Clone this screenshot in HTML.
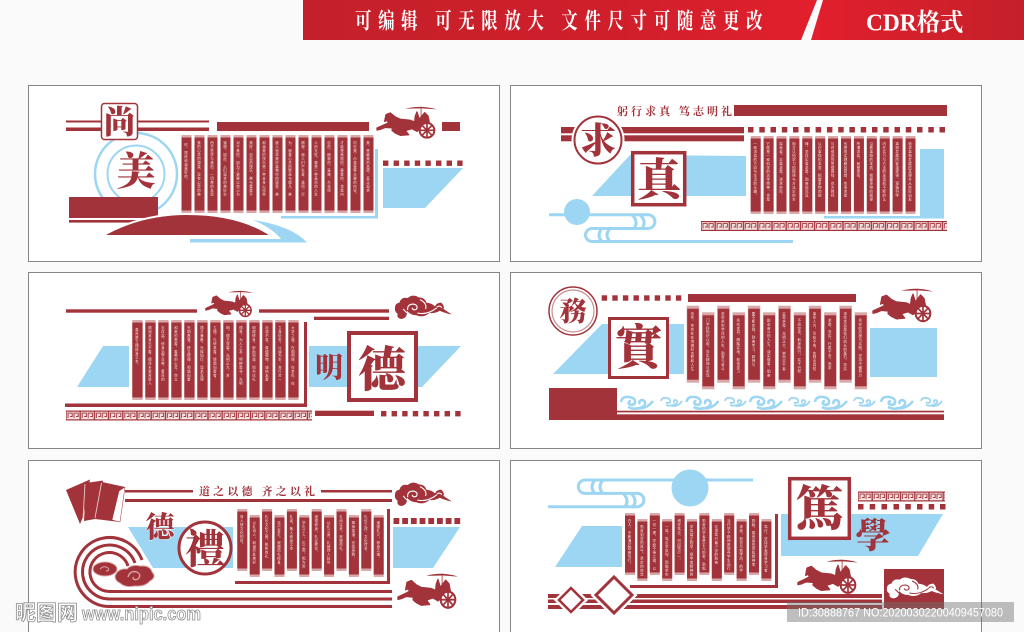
<!DOCTYPE html>
<html lang="zh">
<head>
<meta charset="utf-8">
<title>文化墙</title>
<style>
html,body{margin:0;padding:0;background:#fafafa;width:1024px;height:632px;overflow:hidden}
svg{display:block}
.c{font-family:"Liberation Serif","Noto Serif CJK TC",serif;font-weight:900;fill:#a2333a;text-anchor:middle}
.t{font-family:"Liberation Serif","Noto Serif CJK SC",serif;font-weight:700;fill:#a2333a}
.h{font-family:"Liberation Serif","Noto Serif CJK SC",serif;font-weight:700;fill:#fff}
.v{font-family:"Liberation Sans","Noto Sans CJK SC",sans-serif;font-size:3.5px;letter-spacing:.45px;fill:#f3dcdc;writing-mode:vertical-rl}
.b{fill:#a2333a}.l{fill:#9dd6f3}
</style>
</head>
<body>
<svg width="1024" height="632" viewBox="0 0 1024 632" xmlns="http://www.w3.org/2000/svg">
<defs>
<linearGradient id="rg" x1="0" x2="1" y1="0" y2="0"><stop offset="0" stop-color="#c4202a"/><stop offset=".6" stop-color="#cf1f2b"/><stop offset="1" stop-color="#e21f2d"/></linearGradient>
<linearGradient id="rg2" x1="0" x2="1" y1="0" y2="0"><stop offset="0" stop-color="#e21f2d"/><stop offset="1" stop-color="#c4202a"/></linearGradient>
<pattern id="key" width="14.2" height="10" patternUnits="userSpaceOnUse">
<rect width="14.2" height="10" fill="#a2333a"/>
<rect x=".7" y="1.2" width="12.8" height="7.6" fill="#f4e2e2"/>
<path d="M2 7.5V2.6H6.200V6H4M8 7.500V2.600H12.200V6H10" fill="none" stroke="#a2333a" stroke-width=".9"/>
</pattern>
<g id="h78"><rect width="10" height="78" fill="#d9a9a9"/><rect y="2.5" width="10" height="73" fill="#a2333a"/></g>
<g id="h80"><rect width="10.3" height="80" fill="#d9a9a9"/><rect y="2.5" width="10.3" height="75" fill="#a2333a"/></g>
<g id="h77"><rect width="12.5" height="77" fill="#d9a9a9"/><rect y="3" x=".5" width="11.5" height="71" fill="#a2333a"/></g>
<g id="h62"><rect width="10" height="62" fill="#d9a9a9"/><rect y="2.5" width="10" height="57" fill="#a2333a"/></g>
<g id="dots8"><rect width="5.4" height="5.4" class="b"/><rect x="10.6" width="5.4" height="5.4" class="b"/><rect x="21.2" width="5.4" height="5.4" class="b"/><rect x="31.8" width="5.4" height="5.4" class="b"/><rect x="42.4" width="5.4" height="5.4" class="b"/><rect x="53" width="5.4" height="5.4" class="b"/><rect x="63.6" width="5.4" height="5.4" class="b"/><rect x="74.2" width="5.4" height="5.4" class="b"/></g>
<g id="car" transform="translate(-4,-5) scale(.3333)">
<path fill="#a2333a" stroke="#a2333a" stroke-width="4" stroke-linejoin="round" d="M15 78L38 68L50 62L45 55L38 58L42 38L55 33L70 45L85 52L115 55L128 60L130 42L135 30L142 52L158 32L168 42L172 62L150 75L135 88L120 80L100 86L110 98L85 100L70 93L60 85L62 78L40 76L25 82L15 84Z"/>
<path fill="#a2333a" d="M100 20Q145 8 195 22L150 19Z"/>
<rect x="146" y="14" width="2.5" height="30" fill="#a2333a"/>
<circle cx="165" cy="85" r="22" fill="#fff" stroke="#a2333a" stroke-width="6"/>
<path d="M165 63V107M143 85H187M149 69L181 101M181 69L149 101" stroke="#a2333a" stroke-width="5"/>
</g>
<g id="cloud" transform="translate(-4,-5) scale(.3333)">
<path stroke="none" d="M28 52Q28 40 40 38Q45 22 62 26Q75 14 92 24Q108 24 112 38Q128 40 135 48Q140 38 152 38Q162 48 158 55L180 70Q160 66 148 60Q135 68 120 66Q105 80 85 72Q70 72 60 60Q62 80 45 82Q32 80 35 68Q26 62 28 52Z"/>
<path fill="none" stroke-width="3" d="M62 58Q60 42 78 42Q92 46 85 56Q76 60 74 52M50 55Q62 72 85 76M95 30Q115 40 110 55M88 66Q115 72 140 52M140 50Q150 44 153 52"/>
</g>
<g id="wave" fill="none" stroke="#9dd6f3" stroke-width="2.500">
<path d="M1 7Q2 1 9 2Q16 3 15 8Q13 11 9 9Q8 6 11 6"/>
<path d="M8 12Q16 16 24 11Q27 6 22 5Q18 6 20 9"/>
<path d="M16 13Q26 15 33 6"/>
</g>
<g id="wave2" fill="none" stroke="#9dd6f3" stroke-width="1.800">
<path d="M1 5Q2 1 7 2Q11 3 10 6Q8 8 6 6"/>
<path d="M6 9Q12 11 17 7Q18 4 15 4Q13 5 14 7"/>
<path d="M12 10Q18 11 22 5"/>
</g>
</defs>

<rect width="1024" height="632" fill="#fafafa"/>
<!-- header -->
<polygon points="303,0 817,0 801,40 303,40" fill="url(#rg)"/>
<polygon points="823,0 1024,0 1024,40 811,40" fill="url(#rg2)"/>
<text class="h" transform="translate(355,28.500) scale(.82,1.120)" font-size="20" textLength="497">可编辑 可无限放大 文件尺寸可随意更改</text>
<text class="h" transform="translate(866,30.500) scale(.9,.95)" font-size="26">CDR格式</text>

<!-- panels -->
<g fill="#fff" stroke="#868686" stroke-width="1">
<rect x="28.5" y="85.5" width="471" height="176"/>
<rect x="510.5" y="85.5" width="471" height="176"/>
<rect x="28.5" y="272.5" width="471" height="176"/>
<rect x="510.5" y="272.5" width="471" height="176"/>
<rect x="28.5" y="460.5" width="471" height="180"/>
<rect x="510.5" y="460.5" width="471" height="180"/>
</g>

<!-- panel 1 -->
<g>
<circle cx="136" cy="174" r="41" fill="none" stroke="#9dd6f3" stroke-width="2.5"/>
<circle cx="136" cy="174" r="28.5" fill="#fff" stroke="#9dd6f3" stroke-width="2"/>
<rect x="66" y="120.5" width="143" height="2" class="b"/>
<rect x="66" y="127.5" width="143" height="3.5" class="b"/>
<rect x="101.5" y="103.5" width="36" height="36" rx="3" fill="#fff" stroke="#a2333a" stroke-width="1.5"/>
<text class="c" x="119.5" y="133" font-size="32">尚</text>
<text class="c" x="136" y="185" font-size="39">美</text>
<rect x="69" y="197" width="89" height="21" class="b"/>
<rect x="69" y="220" width="89" height="2.6" class="b"/>
<path class="l" d="M253 220Q292 226 307 242.5H190V239H281Q272 228 253 220Z"/>
<path class="b" stroke="#fff" stroke-width="2" d="M102 236Q140 214 187 214Q240 214 272 236Z"/>
<rect x="217" y="122" width="152" height="9" class="b"/>
<rect x="375" y="149" width="3" height="69" class="l"/>
<rect x="281" y="216" width="97" height="2.5" class="l"/>
<use href="#car" transform="translate(376,107)"/>
<rect x="442" y="122" width="18" height="9" class="b"/>
<use href="#dots8" transform="translate(383,160.5)"/>
<polygon class="l" points="383,168 463,168 425,208 383,208"/>
<g transform="translate(181.5,135)"><use href="#h78"/><text class="v" x="5" y="8">时，提炼和谐美好的。</text></g>
<g transform="translate(194.5,135)"><use href="#h78"/><text class="v" x="5" y="6">美的心灵的源泉，没有心灵的美</text></g>
<g transform="translate(207.5,135)"><use href="#h78"/><text class="v" x="5" y="6">西方哲学与美的，一切美的发现</text></g>
<g transform="translate(220.5,135)"><use href="#h78"/><text class="v" x="5" y="6">道德，因此，人们追求的美好生</text></g>
<g transform="translate(233.5,135)"><use href="#h78"/><text class="v" x="5" y="6">对于美的，因为了更要以自己为</text></g>
<g transform="translate(246.5,135)"><use href="#h78"/><text class="v" x="5" y="6">美好，自由的快乐，美与善是不</text></g>
<g transform="translate(259.5,135)"><use href="#h78"/><text class="v" x="5" y="6">和谐美的快乐是一种全身心境界</text></g>
<g transform="translate(272.5,135)"><use href="#h78"/><text class="v" x="5" y="6">使人追求美好事物时的感受，美</text></g>
<g transform="translate(285.5,135)"><use href="#h78"/><text class="v" x="5" y="6">为，使善心灵的崇高与超凡，美</text></g>
<g transform="translate(298.5,135)"><use href="#h78"/><text class="v" x="5" y="6">精神，使人们产生爱，进而，行</text></g>
<g transform="translate(311.5,135)"><use href="#h78"/><text class="v" x="5" y="6">人的天性，要是一种高尚的人生</text></g>
<g transform="translate(324.5,135)"><use href="#h78"/><text class="v" x="5" y="6">目的，精神的，高雅、大化境</text></g>
<g transform="translate(337.5,135)"><use href="#h78"/><text class="v" x="5" y="6">才能是美丽的，要善的，也是内</text></g>
<g transform="translate(350.5,135)"><use href="#h78"/><text class="v" x="5" y="6">内在美，尔虞美等主要的内容。</text></g>
<g transform="translate(363.5,135)"><use href="#h78"/><text class="v" x="5" y="6">美，是最美的品质，真正追求</text></g>
</g>

<!-- panel 2 -->
<g>
<text class="t" x="617" y="115" font-size="11" textLength="115">躬行求真 笃志明礼</text>
<rect x="734" y="105" width="213" height="11" class="b"/>
<rect x="561" y="127" width="183" height="6.3" class="b"/>
<rect x="561" y="135.3" width="183" height="6" class="b"/>
<circle cx="598" cy="140" r="25" fill="#fff" stroke="#fff" stroke-width="3"/>
<circle cx="598" cy="140" r="23.5" fill="#fff" stroke="#a2333a" stroke-width="2"/>
<text class="c" x="598" y="153" font-size="36">求</text>
<path class="b" d="M748 127h5.5v5.5h-5.5zM759.3 127h5.5v5.5h-5.5zM770.5 127h5.5v5.5h-5.5zM781.8 127h5.5v5.5h-5.5zM793 127h5.5v5.5h-5.5zM804.3 127h5.5v5.5h-5.5zM815.6 127h5.5v5.5h-5.5zM826.9 127h5.5v5.5h-5.5zM838.2 127h5.5v5.5h-5.5zM849.4 127h5.5v5.5h-5.5zM860.7 127h5.5v5.5h-5.5zM872 127h5.5v5.5h-5.5zM883.2 127h5.5v5.5h-5.5zM894.5 127h5.5v5.5h-5.5zM905.8 127h5.5v5.5h-5.5zM917 127h5.5v5.5h-5.5zM928.3 127h5.5v5.5h-5.5zM939.5 127h5.5v5.5h-5.5z"/>
<rect x="920" y="149" width="24" height="69" class="l"/>
<rect x="824" y="216" width="120" height="2.5" class="l"/>
<polygon class="l" points="630,155 746,156 746,196 592,196"/>
<rect x="632.7" y="152.7" width="52" height="52" fill="#fff" stroke="#a2333a" stroke-width="3.5"/>
<text class="c" x="659" y="195" font-size="44">真</text>
<circle cx="577" cy="212" r="13" class="l"/>
<path fill="none" stroke="#9dd6f3" stroke-width="3" d="M549 214.7H648A6.900 6.900 0 0 1 648 228.500H592A6.500 6.500 0 0 0 592 241.500H793M632 215Q639 221 634 228.500M640 215Q647 221 642 228.500M602 228.500Q596 235 602 241.500M610 228.500Q604 235 610 241.500"/>
<g transform="translate(701,221)"><rect width="246" height="10" fill="url(#key)"/></g>
<g transform="translate(750.7,136)"><use href="#h78"/><text class="v" x="5" y="6">一种求真的方向与生活的乐趣。</text></g>
<g transform="translate(763.6,136)"><use href="#h78"/><text class="v" x="5" y="6">它既是一种科学的治学精神，也是</text></g>
<g transform="translate(776.5,136)"><use href="#h78"/><text class="v" x="5" y="6">探索者，实事求是，讲求实际，</text></g>
<g transform="translate(789.4,136)"><use href="#h78"/><text class="v" x="5" y="6">相互认知学习的规律与方法论的本</text></g>
<g transform="translate(802.3,136)"><use href="#h78"/><text class="v" x="5" y="6">律，坚持实事求是，勤奋探究真</text></g>
<g transform="translate(815.2,136)"><use href="#h78"/><text class="v" x="5" y="6">认识事物的本质，把握事物的规</text></g>
<g transform="translate(828.1,136)"><use href="#h78"/><text class="v" x="5" y="6">与时俱进的思想路线，也为教师</text></g>
<g transform="translate(841,136)"><use href="#h78"/><text class="v" x="5" y="6">也是现实理解其思想，实事求是</text></g>
<g transform="translate(853.9,136)"><use href="#h78"/><text class="v" x="5" y="6">所谓求真，就是求索，</text></g>
<g transform="translate(866.8,136)"><use href="#h78"/><text class="v" x="5" y="6">沿着事物的本质，把握事物的规律</text></g>
<g transform="translate(879.7,136)"><use href="#h78"/><text class="v" x="5" y="6">内在实力与方法的发现和不断的认</text></g>
<g transform="translate(892.6,136)"><use href="#h78"/><text class="v" x="5" y="6">事物发展的客观规律，遵循科学</text></g>
<g transform="translate(905.5,136)"><use href="#h78"/><text class="v" x="5" y="6">追求事物发展的真理并从实际出发</text></g>
</g>

<!-- panel 3 -->
<g>
<polygon class="l" points="103,346 129,346 129,387 77,387"/>
<polygon class="l" points="309,346 461,346 422,387 309,387"/>
<rect x="66" y="309.300" width="131" height="3.4" class="b"/>
<use href="#car" transform="translate(205,291) scale(.79,.83)"/>
<rect x="259" y="309.300" width="130" height="3.4" class="b"/>
<rect x="314" y="316.700" width="75" height="3.3" class="b"/>
<use href="#cloud" transform="translate(389,294) scale(1.120)" fill="#a2333a" stroke="#fff"/>
<rect x="304" y="322" width="3" height="85" class="b"/>
<rect x="65" y="403.500" width="242" height="3.5" class="b"/>
<g transform="translate(132.3,320)"><use href="#h80"/><text class="v" x="5.100" y="8">善良是立德修身之本。</text></g>
<g transform="translate(145.3,320)"><use href="#h80"/><text class="v" x="5.100" y="6">德润其身无不善，德泽乡里育新人</text></g>
<g transform="translate(158.3,320)"><use href="#h80"/><text class="v" x="5.100" y="6">志存高，修身治学且美，善良的</text></g>
<g transform="translate(171.3,320)"><use href="#h80"/><text class="v" x="5.100" y="6">和美的美善，善美的心灵，自立</text></g>
<g transform="translate(184.3,320)"><use href="#h80"/><text class="v" x="5.100" y="6">光明磊落，修文修德，和谐向善</text></g>
<g transform="translate(197.3,320)"><use href="#h80"/><text class="v" x="5.100" y="6">德才兼备，光辉灿烂，追求真理</text></g>
<g transform="translate(210.3,320)"><use href="#h80"/><text class="v" x="5.100" y="6">立德，礼修其善，提倡向善者，</text></g>
<g transform="translate(223.3,320)"><use href="#h80"/><text class="v" x="5.100" y="6">明，德艺双馨，光明正大，言</text></g>
<g transform="translate(236.3,320)"><use href="#h80"/><text class="v" x="5.100" y="6">德育，为人之本，明辨是非，光明</text></g>
<g transform="translate(249.300,320)"><use href="#h80"/><text class="v" x="5.100" y="6">明德修身，崇尚和谐，知书达礼</text></g>
<g transform="translate(262.300,320)"><use href="#h80"/><text class="v" x="5.100" y="6">自强不息，厚德载物，诚信友善</text></g>
<g transform="translate(275.300,320)"><use href="#h80"/><text class="v" x="5.100" y="6">立身处世，以诚为本，言行合一</text></g>
<g transform="translate(288.300,320)"><use href="#h80"/><text class="v" x="5.100" y="6">大学之道，在明明德，在亲民，在</text></g>
<text class="c" x="329" y="377" font-size="28">明</text>
<rect x="349" y="333" width="67" height="67" fill="#fff" stroke="#a2333a" stroke-width="4"/>
<text class="c" x="382" y="386" font-size="48">德</text>
<g transform="translate(66,410.500)"><rect width="246" height="10" fill="url(#key)"/></g>
<rect x="315" y="410.700" width="59" height="5.300" class="b"/>
<use href="#dots8" transform="translate(381,411)"/>
</g>

<!-- panel 4 -->
<g>
<polygon class="l" points="602,324 684,324 684,374 553,374"/>
<rect x="870" y="328" width="67" height="49" class="l"/>
<circle cx="573" cy="311" r="24" fill="#fff" stroke="#a2333a" stroke-width="1.500"/>
<circle cx="573" cy="311" r="21" fill="none" stroke="#c98f8f" stroke-width="1.200"/>
<text class="c" x="573" y="321" font-size="27">務</text>
<use href="#dots8" transform="translate(601.700,295.300)"/>
<rect x="688" y="294" width="168" height="8" class="b"/>
<rect x="609.500" y="318.500" width="58" height="59" fill="#fff" stroke="#a2333a" stroke-width="3"/>
<text class="c" x="638.500" y="364" font-size="48">實</text>
<use href="#car" transform="translate(872,289) scale(1,1.050)"/>
<g transform="translate(686.700,305.700)"><use href="#h77"/><text class="v" x="6.200" y="6">务实，实实在在地做好本职和人生</text></g>
<g transform="translate(702,312.300)"><use href="#h77"/><text class="v" x="6.200" y="6">门学科知识以前，务实精神与实现</text></g>
<g transform="translate(717.200,305.700)"><use href="#h77"/><text class="v" x="6.200" y="6">务实求实学风的人生，勤奋与奋斗</text></g>
<g transform="translate(732.500,312.300)"><use href="#h77"/><text class="v" x="6.200" y="6">务实求真，脚踏实地，勤奋学习</text></g>
<g transform="translate(747.800,305.700)"><use href="#h77"/><text class="v" x="6.200" y="6">要不断实践，勤奋学习，精神与</text></g>
<g transform="translate(763,312.300)"><use href="#h77"/><text class="v" x="6.200" y="6">励志奋斗的人生，诚实做事，勤奋</text></g>
<g transform="translate(778.300,305.700)"><use href="#h77"/><text class="v" x="6.200" y="6">实事求是，光明正大，崇尚实干者</text></g>
<g transform="translate(793.600,312.300)"><use href="#h77"/><text class="v" x="6.200" y="6">不尚空谈，躬身践行，实干兴邦</text></g>
<g transform="translate(808.800,305.700)"><use href="#h77"/><text class="v" x="6.200" y="6">事在人为，功在不舍，实践出真知</text></g>
<g transform="translate(824.100,312.300)"><use href="#h77"/><text class="v" x="6.200" y="6">求是，务实，行胜于言，追求</text></g>
<g transform="translate(839.400,305.700)"><use href="#h77"/><text class="v" x="6.200" y="6">求实求真是我们成长的基石，务实</text></g>
<g transform="translate(854.600,312.300)"><use href="#h77"/><text class="v" x="6.200" y="6">务实的态度与实践，坚持不懈努力</text></g>
<rect x="549" y="388" width="68" height="32" class="b"/>
<rect x="617" y="410.700" width="327" height="1.700" class="b"/>
<rect x="617" y="414.300" width="327" height="5.700" class="b"/>
<use href="#wave" transform="translate(620,395)"/><use href="#wave2" transform="translate(660,396)"/>
<use href="#wave" transform="translate(685.500,395)"/><use href="#wave2" transform="translate(724,396)"/>
<use href="#wave" transform="translate(749,395)"/><use href="#wave2" transform="translate(788,396)"/>
<use href="#wave" transform="translate(814,395)"/><use href="#wave2" transform="translate(853,396)"/>
<use href="#wave" transform="translate(880,395)"/><use href="#wave2" transform="translate(920,396)"/>
</g>

<!-- panel 5 -->
<g>
<polygon class="l" points="128,527 233,527 233,568 153,568"/>
<polygon class="l" points="393,527 460,527 433,568 393,568"/>
<polygon class="b" points="66,490 90,479.500 83,517 80,524"/>
<polygon class="b" points="86,483 103,480.500 95,519 84,521"/>
<polygon class="b" points="102,482 125,487 120,522 95,519"/>
<polygon points="119,491 125,487 120,522 112,520" fill="#fff" stroke="#a2333a" stroke-width=".5"/>
<path d="M85 484L83 519M101.500 483L95 518" stroke="#e9caca" stroke-width=".9"/>
<rect x="125" y="490" width="68" height="2.500" class="b"/>
<rect x="321" y="490" width="71" height="2.500" class="b"/>
<rect x="125" y="499" width="267" height="3" class="b"/>
<text class="t" x="199" y="495" font-size="11" textLength="116">道之以德 齐之以礼</text>
<use href="#cloud" transform="translate(389,481) scale(1.120)" fill="#a2333a" stroke="#fff"/>
<path fill="none" stroke="#a2333a" stroke-width="3" d="M142 560A34.500 34.500 0 1 0 109.500 606.500H392M135 563A27 27 0 1 0 109.500 599H392M128 566A19.500 19.500 0 1 0 109.500 591.500H392"/>
<ellipse cx="105" cy="569" rx="12" ry="7" class="b" stroke="#d9a9a9" stroke-width="1"/>
<path d="M100 569q4-4 8-1q2 3-2 3" fill="none" stroke="#d9a9a9" stroke-width="1"/>
<path class="b" stroke="#d9a9a9" stroke-width="1" d="M115 576Q118 568 127 569Q132 564 140 566Q150 565 152 572Q157 577 150 581Q145 587 135 586Q125 588 120 583Q115 581 115 576Z"/>
<path d="M128 577q2-7 9-5q5 3 1 7q-5 2-5-2" fill="none" stroke="#d9a9a9" stroke-width="1.300"/>
<text class="c" x="160" y="537" font-size="29" style="stroke:#fff;stroke-width:1;paint-order:stroke">德</text>
<circle cx="205" cy="548" r="26" fill="#fff" stroke="#a2333a" stroke-width="3"/>
<text class="c" x="205" y="563" font-size="40">禮</text>
<g transform="translate(237.300,509)"><use href="#h62"/><text class="v" x="5" y="6">育人修文化的时。</text></g>
<g transform="translate(249.700,515)"><use href="#h62"/><text class="v" x="5" y="6">以礼待人，和谐共处美好</text></g>
<g transform="translate(262.100,509)"><use href="#h62"/><text class="v" x="5" y="6">礼乐文化之美，彬彬有礼</text></g>
<g transform="translate(274.500,515)"><use href="#h62"/><text class="v" x="5" y="6">克己复礼，崇德尚礼修身，</text></g>
<g transform="translate(286.900,509)"><use href="#h62"/><text class="v" x="5" y="6">礼者，敬人修身之本</text></g>
<g transform="translate(299.300,515)"><use href="#h62"/><text class="v" x="5" y="6">学礼之人，礼之用，和为贵</text></g>
<g transform="translate(311.700,509)"><use href="#h62"/><text class="v" x="5" y="6">道德修身，礼仪教化，</text></g>
<g transform="translate(324.100,515)"><use href="#h62"/><text class="v" x="5" y="6">以礼立身，礼貌待人处世</text></g>
<g transform="translate(336.500,509)"><use href="#h62"/><text class="v" x="5" y="6">礼尚往来，崇德尚礼，</text></g>
<g transform="translate(348.900,515)"><use href="#h62"/><text class="v" x="5" y="6">尊师重道，言传身教，</text></g>
<g transform="translate(361.300,509)"><use href="#h62"/><text class="v" x="5" y="6">礼仪之邦，文化传承，</text></g>
<g transform="translate(373.700,515)"><use href="#h62"/><text class="v" x="5" y="6">道德礼义，修身之道，</text></g>
<rect x="387" y="509" width="3" height="75" class="b"/>
<rect x="235" y="581" width="155" height="3" class="b"/>
<g transform="translate(393.500,518)"><rect width="5.800" height="6" class="b"/><rect x="8.700" width="5.800" height="6" class="b"/><rect x="17.400" width="5.800" height="6" class="b"/><rect x="26.100" width="5.800" height="6" class="b"/><rect x="34.800" width="5.800" height="6" class="b"/><rect x="43.500" width="5.800" height="6" class="b"/><rect x="52.200" width="5.800" height="6" class="b"/><rect x="60.900" width="5.800" height="6" class="b"/></g>
<use href="#car" transform="translate(397,574) scale(1,1.100)"/>
</g>

<!-- panel 6 -->
<g>
<path fill="none" stroke="#9dd6f3" stroke-width="3" d="M753 480H585A6.700 6.700 0 0 0 585 493.400H638A6.700 6.700 0 0 1 638 506.700H548M595 480Q589 487 595 493.400M603 480Q597 487 603 493.400M623 493.400Q630 500 625 506.700M631 493.400Q638 500 633 506.700"/>
<circle cx="690" cy="488" r="18.500" class="l"/>
<polygon class="l" points="582,526 622,526 622,567 555,567"/>
<polygon class="l" points="781,514 943,514 918,556 781,556"/>
<rect x="789.700" y="478.700" width="59.600" height="59.600" fill="#fff" stroke="#a2333a" stroke-width="3.500"/>
<text class="c" x="819.500" y="525" font-size="48">篤</text>
<g transform="translate(858,491.500)"><rect width="87" height="10" fill="url(#key)"/></g>
<g transform="translate(858,504)"><rect width="5.500" height="5.500" class="b"/><rect x="11.700" width="5.500" height="5.500" class="b"/><rect x="23.500" width="5.500" height="5.500" class="b"/><rect x="35.500" width="5.500" height="5.500" class="b"/><rect x="47.300" width="5.500" height="5.500" class="b"/><rect x="59" width="5.500" height="5.500" class="b"/><rect x="70.700" width="5.500" height="5.500" class="b"/><rect x="82" width="5.500" height="5.500" class="b"/></g>
<text class="c" x="873" y="548" font-size="35">學</text>
<g transform="translate(625,513)"><use href="#h62"/><text class="v" x="5" y="6">白人，不断通过勤奋笃行。</text></g>
<g transform="translate(637.400,519)"><use href="#h62"/><text class="v" x="5" y="6">勤奋刻苦的风气，坚定的信念</text></g>
<g transform="translate(649.800,513)"><use href="#h62"/><text class="v" x="5" y="6">一切一理，学而不倦之道，以</text></g>
<g transform="translate(662.200,519)"><use href="#h62"/><text class="v" x="5" y="6">一笃，笃志学风向，勤勉求实</text></g>
<g transform="translate(674.600,513)"><use href="#h62"/><text class="v" x="5" y="6">博学笃志，切问笃行一，</text></g>
<g transform="translate(687,519)"><use href="#h62"/><text class="v" x="5" y="6">学风端正勤学，把学者精神的</text></g>
<g transform="translate(699.400,513)"><use href="#h62"/><text class="v" x="5" y="6">勤奋的学者是平凡的事，勤勉</text></g>
<g transform="translate(711.800,519)"><use href="#h62"/><text class="v" x="5" y="6">论语笃行最少学的勤奋</text></g>
<g transform="translate(724.200,513)"><use href="#h62"/><text class="v" x="5" y="6">当代学子精神是培养学生品行</text></g>
<g transform="translate(736.600,519)"><use href="#h62"/><text class="v" x="5" y="6">求索，刻苦与勤学风，的学</text></g>
<g transform="translate(749,513)"><use href="#h62"/><text class="v" x="5" y="6">勤勉，善良者的求知精神者</text></g>
<g transform="translate(761.400,519)"><use href="#h62"/><text class="v" x="5" y="6">笃行，坚持求索修身学习者</text></g>
<rect x="775" y="514" width="3" height="74" class="b"/>
<rect x="630" y="585" width="148" height="3" class="b"/>
<use href="#car" transform="translate(797,560) scale(1,1.070)"/>
<rect x="884" y="569" width="60" height="40" class="b"/>
<use href="#cloud" transform="translate(881,576) scale(1.120,1)" fill="#fff" stroke="#a2333a"/>
<rect x="548" y="594" width="334" height="4" class="b"/>
<rect x="548" y="599.500" width="334" height="3.500" class="b"/>
<rect x="548" y="605" width="334" height="4" class="b"/>
<polygon points="571,586.500 584.500,600 571,613.500 557.500,600" fill="#fff" stroke="#fff" stroke-width="5"/>
<polygon points="571,588 583,600 571,612 559,600" fill="#fff" stroke="#a2333a" stroke-width="2.500"/>
<polygon points="614,575 634,595 614,615 594,595" fill="#fff" stroke="#fff" stroke-width="5"/>
<polygon points="614,577 632,595 614,613 596,595" fill="#fff" stroke="#a2333a" stroke-width="3"/>
</g>

<!-- watermarks -->
<g font-family="'Liberation Sans','Noto Sans CJK SC',sans-serif" font-weight="700" fill="#fff" stroke="#8d8d8d" stroke-width=".8">
<text x="15" y="620" font-size="21" textLength="63">昵图网</text>
<text x="82" y="620" font-size="18" textLength="119" lengthAdjust="spacingAndGlyphs">www.nipic.com</text>
</g>
<rect x="787" y="602" width="227" height="20" fill="#6e6e6e" fill-opacity=".45"/>
<text x="798" y="616.500" font-family="'Liberation Sans',sans-serif" font-size="12" fill="#fff" textLength="205" lengthAdjust="spacingAndGlyphs">ID:30888767 NO:20200302200409457080</text>
</svg>
</body>
</html>
